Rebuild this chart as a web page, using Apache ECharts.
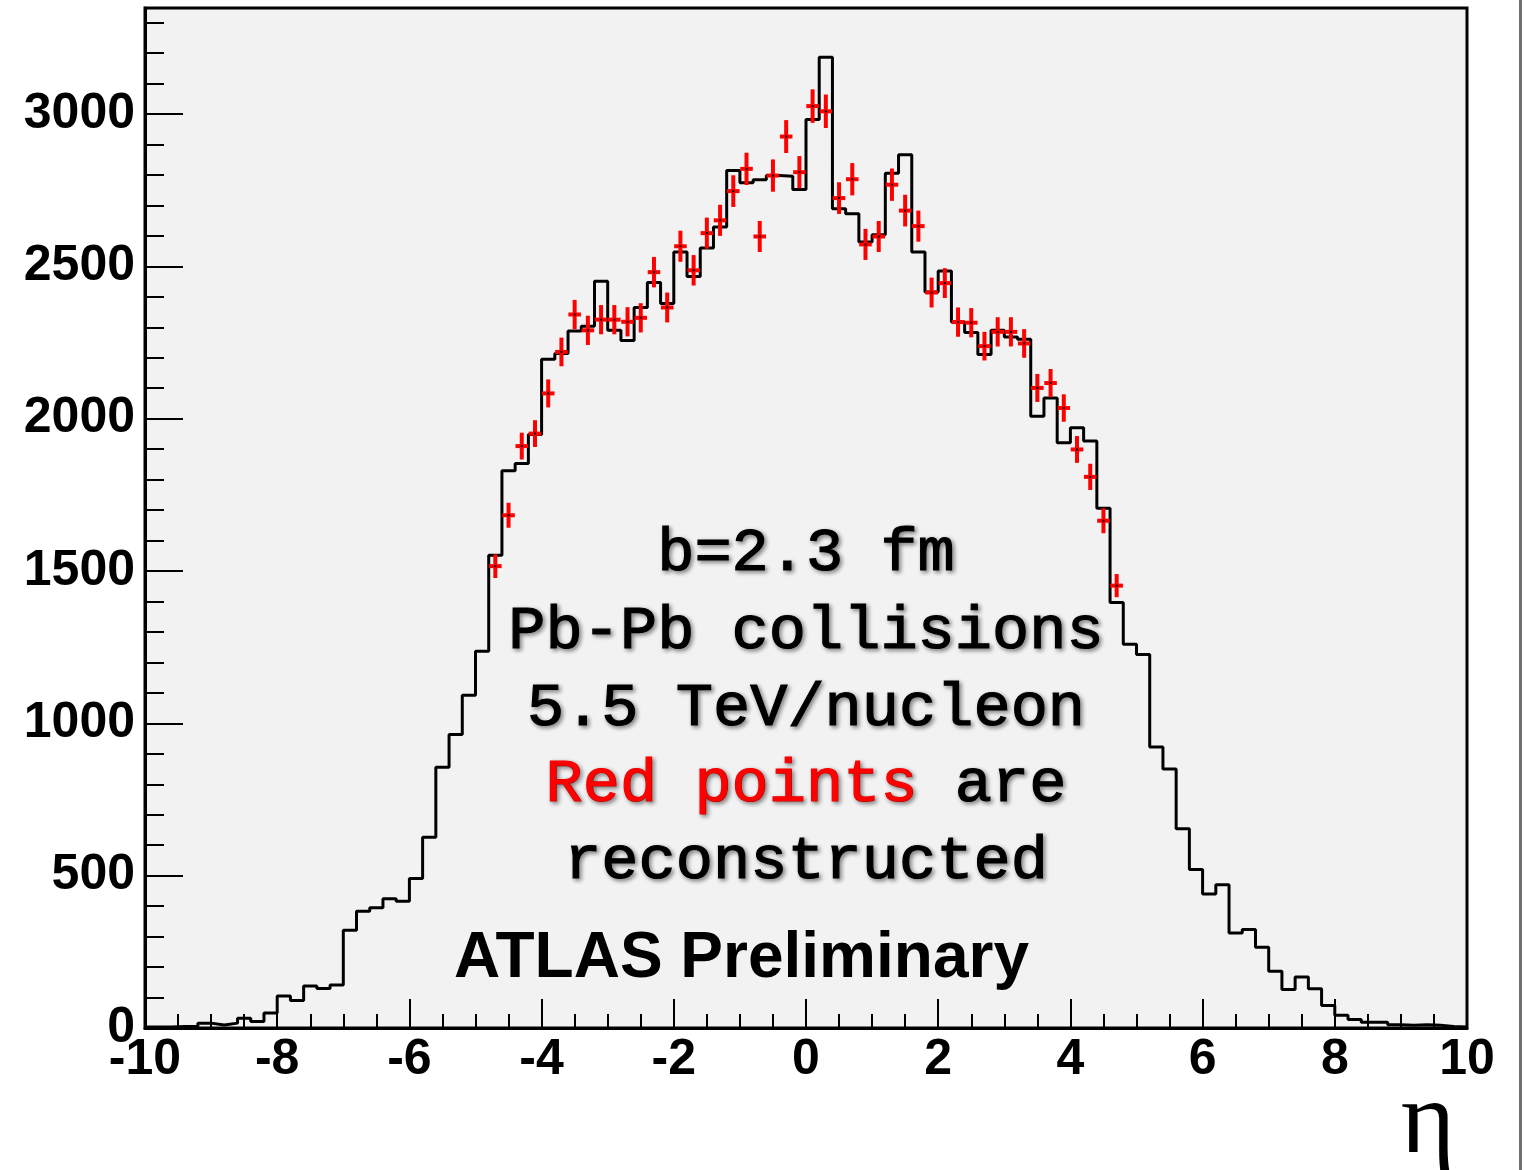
<!DOCTYPE html>
<html><head><meta charset="utf-8">
<script src="https://cdn.jsdelivr.net/npm/echarts@6/dist/echarts.min.js"></script>
<style>html,body{margin:0;padding:0;background:#fff;}#c{width:1525px;height:1170px;}</style>
</head><body><div id="c"></div>
<script>
// Histogram: 100 bins of width 0.2 from eta = -10 to 10 (generated particles)
const histLowEdge = -10;
const binWidth = 0.2;
const histCounts = [
  3, 3, 5, 5, 16, 10, 16, 32, 21, 49,
  105, 90, 138, 130, 141, 321, 383, 395, 424, 416,
  491, 626, 856, 963, 1092, 1237, 1552, 1829, 1853, 1948,
  2195, 2214, 2288, 2303, 2451, 2290, 2257, 2365, 2447, 2378,
  2547, 2467, 2560, 2629, 2815, 2774, 2784, 2798, 2796, 2752,
  2982, 3186, 2689, 2673, 2580, 2604, 2806, 2866, 2547, 2416,
  2485, 2317, 2283, 2211, 2290, 2268, 2261, 2008, 2068, 1921,
  1970, 1927, 1706, 1397, 1260, 1226, 922, 850, 654, 520,
  440, 470, 312, 323, 265, 186, 126, 167, 129, 74,
  42, 28, 19, 19, 11, 9, 11, 9, 5, 3
];
// Reconstructed points (red)
const recoEta = [
  -4.7, -4.5, -4.3, -4.1, -3.9, -3.7, -3.5, -3.3, -3.1, -2.9, -2.7, -2.5,
  -2.3, -2.1, -1.9, -1.7, -1.5, -1.3, -1.1, -0.9, -0.7, -0.5, -0.3, -0.1,
  0.1, 0.3, 0.5, 0.7, 0.9, 1.1, 1.3, 1.5, 1.7, 1.9, 2.1, 2.3,
  2.5, 2.7, 2.9, 3.1, 3.3, 3.5, 3.7, 3.9, 4.1, 4.3, 4.5, 4.7
];
const recoCounts = [
  1516, 1683, 1910, 1951, 2083, 2219, 2342, 2290, 2325, 2325, 2318, 2331,
  2481, 2365, 2566, 2487, 2609, 2651, 2747, 2820, 2598, 2798, 2926, 2809,
  3026, 3009, 2724, 2786, 2572, 2598, 2768, 2683, 2632, 2414, 2445, 2317,
  2315, 2238, 2285, 2285, 2247, 2101, 2117, 2035, 1899, 1809, 1665, 1452
];
const recoErrors = [
  39, 41, 44, 44, 46, 47, 48, 48, 48, 48, 48, 48,
  50, 49, 51, 50, 51, 51, 52, 53, 51, 53, 54, 53,
  55, 55, 52, 53, 51, 51, 53, 52, 51, 49, 49, 48,
  48, 47, 48, 48, 47, 46, 46, 45, 44, 43, 41, 38
];
const annotationLines = ['b=2.3 fm', 'Pb-Pb collisions', '5.5 TeV/nucleon', '{r|Red points}{k| are}', 'reconstructed'];
const atlasLabel = 'ATLAS Preliminary';
const xAxisTitle = 'η';

const histData = histCounts.map((v, i) => [+(histLowEdge + i * binWidth).toFixed(2), v]);
histData.push([+(histLowEdge + histCounts.length * binWidth).toFixed(2), histCounts[histCounts.length - 1]]);
const recoData = recoEta.map((e, i) => [e, recoCounts[i], recoErrors[i]]);

const labelFont = {fontFamily: 'Liberation Sans', fontWeight: 'bold', fontSize: 50, color: '#000'};
const monoFont = '"Liberation Mono", "DejaVu Sans Mono", monospace';
const monoWeight = 'normal';
const shadow = {textShadowColor: 'rgba(0,0,0,0.45)', textShadowBlur: 4, textShadowOffsetX: 2, textShadowOffsetY: 2};
const baselines = [570, 648, 725, 801, 878];
const monoSize = 62;

const graphic = annotationLines.map((t, i) => ({
  type: 'text', z: 50,
  style: Object.assign({
    text: t, x: 806, y: baselines[i] - 0.27 * monoSize,
    align: 'center', verticalAlign: 'middle',
    fontFamily: monoFont, fontSize: monoSize, fontWeight: monoWeight, fill: '#000',
    stroke: '#000', lineWidth: 1.2,
    rich: {
      r: Object.assign({fontFamily: monoFont, fontSize: monoSize, fontWeight: monoWeight, fill: '#ff0000', stroke: '#ff0000', lineWidth: 1.2}, shadow),
      k: Object.assign({fontFamily: monoFont, fontSize: monoSize, fontWeight: monoWeight, fill: '#000', stroke: '#000', lineWidth: 1.2}, shadow)
    }
  }, shadow)
}));
graphic.push({
  type: 'text', z: 50,
  style: {text: atlasLabel, x: 454, y: 982 - 0.3465 * 64, align: 'left', verticalAlign: 'middle',
    fontFamily: 'Liberation Sans', fontWeight: 'bold', fontSize: 64, fill: '#000'}
});
graphic.push({
  type: 'text', z: 50,
  style: {text: xAxisTitle, x: 1428, y: 1160 - 0.3375 * 104, align: 'center', verticalAlign: 'middle',
    fontFamily: 'Liberation Serif', fontSize: 104, fill: '#000'}
});
graphic.push({type: 'rect', shape: {x: 1519, y: 0, width: 3, height: 1170}, style: {fill: '#707070'}});

const plainNumber = v => String(Math.round(v));

const chart = echarts.init(document.getElementById('c'), null, {renderer: 'canvas'});
chart.setOption({
  animation: false,
  backgroundColor: '#fff',
  grid: {left: 145, right: 58, top: 8, bottom: 142, show: true, backgroundColor: '#f2f2f2', borderColor: '#000', borderWidth: 3, containLabel: false},
  xAxis: [
    {type: 'value', min: -10, max: 10, interval: 2, position: 'bottom',
      axisLine: {show: true, onZero: false, lineStyle: {color: '#000', width: 3}},
      axisTick: {show: true, inside: true, length: 29, lineStyle: {color: '#000', width: 2}},
      axisLabel: Object.assign({margin: 7, formatter: plainNumber}, labelFont),
      splitLine: {show: false}},
    {type: 'value', min: -10, max: 10, interval: 0.5, position: 'bottom',
      axisLine: {show: false, onZero: false},
      axisTick: {show: true, inside: true, length: 14, lineStyle: {color: '#000', width: 2}},
      axisLabel: {show: false}, splitLine: {show: false}}
  ],
  yAxis: [
    {type: 'value', min: 0, max: 3348, interval: 500, position: 'left',
      axisLine: {show: true, onZero: false, lineStyle: {color: '#000', width: 3}},
      axisTick: {show: true, inside: true, length: 38, lineStyle: {color: '#000', width: 2}},
      axisLabel: Object.assign({margin: 10, showMaxLabel: false, formatter: plainNumber}, labelFont),
      splitLine: {show: false}},
    {type: 'value', min: 0, max: 3348, interval: 100, position: 'left',
      axisLine: {show: false, onZero: false},
      axisTick: {show: true, inside: true, length: 19, lineStyle: {color: '#000', width: 2}},
      axisLabel: {show: false}, splitLine: {show: false}}
  ],
  series: [
    {type: 'line', name: 'generated', xAxisIndex: 0, yAxisIndex: 0, step: 'end', data: histData,
      showSymbol: false, symbol: 'none', lineStyle: {color: '#000', width: 3}, z: 3, clip: true},
    {type: 'custom', name: 'reconstructed', xAxisIndex: 0, yAxisIndex: 0, data: recoData, z: 4,
      encode: {x: 0, y: 1},
      renderItem: function (params, api) {
        const x = api.value(0), y = api.value(1), e = api.value(2);
        const c = api.coord([x, y]);
        const top = api.coord([x, y + e]);
        const bot = api.coord([x, y - e]);
        const l = api.coord([x - 0.095, y]);
        const r = api.coord([x + 0.095, y]);
        return {type: 'group', children: [
          {type: 'line', shape: {x1: c[0], y1: top[1], x2: c[0], y2: bot[1]}, style: {stroke: '#ff0000', lineWidth: 4}},
          {type: 'line', shape: {x1: l[0], y1: c[1], x2: r[0], y2: c[1]}, style: {stroke: '#ff0000', lineWidth: 4}},
          {type: 'rect', shape: {x: c[0] - 1, y: c[1] - 1, width: 2, height: 2}, style: {fill: '#000'}}
        ]};
      }}
  ],
  graphic: graphic
});
</script></body></html>
